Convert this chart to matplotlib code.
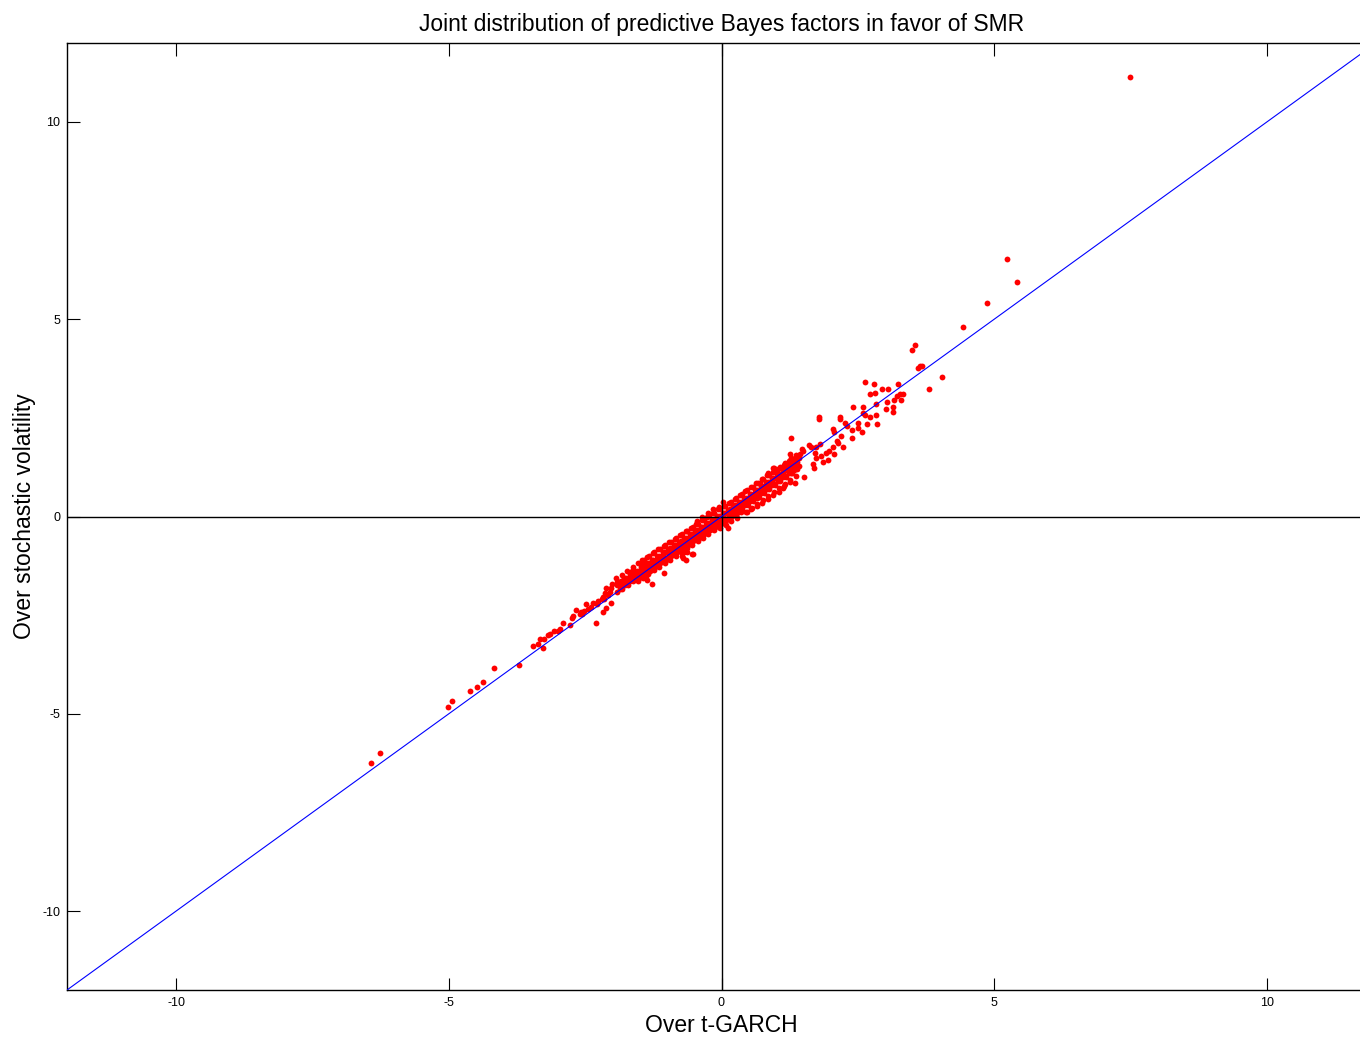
import matplotlib
matplotlib.use('Agg')
import matplotlib.pyplot as plt

plt.rcParams.update({
    "font.family": ["Liberation Sans", "DejaVu Sans"],
    "axes.unicode_minus": False,
})

# central dense band
core_x = [
    -1.93, -1.88, -1.91, -1.87, -1.92, -1.83, -1.78, -1.81, -1.77, -1.82,
    -1.73, -1.68, -1.71, -1.67, -1.72, -1.63, -1.58, -1.61, -1.57, -1.62,
    -1.53, -1.48, -1.51, -1.47, -1.52, -1.43, -1.38, -1.41, -1.37, -1.42,
    -1.33, -1.28, -1.31, -1.27, -1.32, -1.23, -1.18, -1.21, -1.17, -1.22,
    -1.13, -1.08, -1.11, -1.07, -1.12, -1.03, -0.98, -1.01, -0.97, -1.02,
    -0.93, -0.88, -0.91, -0.87, -0.92, -0.83, -0.78, -0.81, -0.77, -0.82,
    -0.73, -0.68, -0.71, -0.67, -0.72, -0.63, -0.58, -0.61, -0.57, -0.62,
    -0.53, -0.48, -0.51, -0.47, -0.52, -0.43, -0.38, -0.41, -0.37, -0.42,
    -0.33, -0.28, -0.31, -0.27, -0.32, -0.23, -0.18, -0.21, -0.17, -0.22,
    -0.13, -0.08, -0.11, -0.07, -0.12, -0.03, 0.02, -0.01, 0.03, -0.02,
    0.07, 0.12, 0.09, 0.13, 0.08, 0.17, 0.22, 0.19, 0.23, 0.18,
    0.27, 0.32, 0.29, 0.33, 0.28, 0.37, 0.42, 0.39, 0.43, 0.38,
    0.47, 0.52, 0.49, 0.53, 0.48, 0.57, 0.62, 0.59, 0.63, 0.58,
    0.67, 0.72, 0.69, 0.73, 0.68, 0.77, 0.82, 0.79, 0.83, 0.78,
    0.87, 0.92, 0.89, 0.93, 0.88, 0.97, 1.02, 0.99, 1.03, 0.98,
    1.07, 1.12, 1.09, 1.13, 1.08, 1.17, 1.22, 1.19, 1.23, 1.18,
    1.27, 1.32, 1.29, 1.33, 1.28, 1.37, 1.42, 1.39, 1.43, 1.38,
]
core_y = [
    -1.56, -1.65, -1.74, -1.83, -1.92, -1.47, -1.56, -1.65, -1.74, -1.83,
    -1.37, -1.46, -1.55, -1.64, -1.73, -1.28, -1.37, -1.46, -1.55, -1.64,
    -1.19, -1.28, -1.37, -1.46, -1.55, -1.10, -1.19, -1.28, -1.37, -1.46,
    -1.01, -1.10, -1.19, -1.28, -1.37, -0.91, -1.00, -1.09, -1.18, -1.27,
    -0.82, -0.91, -1.00, -1.09, -1.18, -0.73, -0.82, -0.91, -1.00, -1.09,
    -0.64, -0.73, -0.82, -0.91, -1.00, -0.55, -0.64, -0.73, -0.82, -0.91,
    -0.45, -0.54, -0.63, -0.72, -0.81, -0.36, -0.45, -0.54, -0.63, -0.72,
    -0.27, -0.36, -0.45, -0.54, -0.63, -0.18, -0.27, -0.36, -0.45, -0.54,
    -0.09, -0.18, -0.27, -0.36, -0.45, 0.01, -0.08, -0.17, -0.26, -0.35,
    0.10, 0.01, -0.08, -0.17, -0.26, 0.19, 0.10, 0.01, -0.08, -0.17,
    0.26, 0.17, 0.08, -0.01, -0.10, 0.36, 0.27, 0.18, 0.09, 0.00,
    0.46, 0.37, 0.28, 0.19, 0.10, 0.56, 0.47, 0.38, 0.29, 0.20,
    0.66, 0.57, 0.48, 0.39, 0.30, 0.76, 0.67, 0.58, 0.49, 0.40,
    0.86, 0.77, 0.68, 0.59, 0.50, 0.96, 0.87, 0.78, 0.69, 0.60,
    1.06, 0.97, 0.88, 0.79, 0.70, 1.16, 1.07, 0.98, 0.89, 0.80,
    1.26, 1.17, 1.08, 0.99, 0.90, 1.36, 1.27, 1.18, 1.09, 1.00,
    1.46, 1.37, 1.28, 1.19, 1.10, 1.56, 1.47, 1.38, 1.29, 1.20,
]

fill_x = [
    -1.85, -1.85, -1.75, -1.75, -1.65, -1.65, -1.55, -1.55, -1.45, -1.45,
    -1.35, -1.35, -1.25, -1.25, -1.15, -1.15, -1.05, -1.05, -0.95, -0.95,
    -0.85, -0.85, -0.75, -0.75, -0.65, -0.65, -0.55, -0.55, -0.45, -0.45,
    -0.35, -0.35, -0.25, -0.25, -0.15, -0.15, -0.05, -0.05, 0.05, 0.05,
    0.15, 0.15, 0.25, 0.25, 0.35, 0.35, 0.45, 0.45, 0.55, 0.55,
    0.65, 0.65, 0.75, 0.75, 0.85, 0.85, 0.95, 0.95, 1.05, 1.05,
    1.15, 1.15, 1.25, 1.25, 1.35, 1.35,
]
fill_y = [
    -1.64, -1.76, -1.55, -1.67, -1.46, -1.58, -1.37, -1.49, -1.27, -1.39,
    -1.18, -1.30, -1.09, -1.21, -1.00, -1.12, -0.91, -1.03, -0.81, -0.93,
    -0.72, -0.84, -0.63, -0.75, -0.54, -0.66, -0.45, -0.57, -0.35, -0.47,
    -0.26, -0.38, -0.17, -0.29, -0.08, -0.20, 0.01, -0.11, 0.08, -0.04,
    0.18, 0.06, 0.28, 0.16, 0.38, 0.26, 0.48, 0.36, 0.58, 0.46,
    0.68, 0.56, 0.78, 0.66, 0.88, 0.76, 0.98, 0.86, 1.08, 0.96,
    1.18, 1.06, 1.28, 1.16, 1.38, 1.26,
]

# outer edges of the band
edge_x = [
    -1.46, -1.36, -1.26, -1.16, -1.06, -0.96, -0.86, -0.76, -0.66, -0.56,
    -0.46, -0.36, -0.26, -0.16, -0.06, 0.04, 0.14, 0.24, 0.34, 0.44,
    0.54, 0.64, 0.74, 0.84, 0.94, 1.04, 1.14, 1.24, 1.34, 1.44,
    -1.54, -1.44, -1.34, -1.24, -1.14, -1.04, -0.94, -0.84, -0.74, -0.64,
    -0.54, -0.44, -0.34, -0.24, -0.14, -0.04, 0.06, 0.16, 0.26, 0.36,
    0.46, 0.56, 0.66, 0.76, 0.86, 0.96, 1.06, 1.16, 1.26, 1.36,
]
edge_y = [
    -1.11, -1.02, -0.93, -0.83, -0.74, -0.65, -0.56, -0.47, -0.37, -0.28,
    -0.19, -0.10, -0.01, 0.09, 0.18, 0.27, 0.34, 0.44, 0.54, 0.64,
    0.74, 0.84, 0.94, 1.04, 1.14, 1.20, 1.30, 1.40, 1.48, 1.58,
    -1.64, -1.55, -1.46, -1.36, -1.27, -1.18, -1.09, -1.00, -0.90, -0.81,
    -0.72, -0.63, -0.54, -0.44, -0.35, -0.26, -0.19, -0.09, 0.01, 0.11,
    0.12, 0.22, 0.32, 0.42, 0.52, 0.62, 0.72, 0.82, 0.92, 1.02,
]

# scattered points around the centre of the band
mid_x = [-0.45, -0.35, -0.25, -0.15, -0.05, 0.02, -0.02, 0.08, 0.18, 0.28,
         0.12, 0.45, 0.55, 0.65, 0.75, 0.85, 0.95, 1.05, 1.15, 1.25,
         -1.65, -1.45, -1.06, -1.38, -1.36, -1.28, -0.72, -0.66, -0.55, -0.64,
         -0.68, -0.70, -0.53, 0.97, 0.85, 0.70, 0.66]
mid_y = [-0.12, 0.00, 0.08, 0.18, 0.25, 0.38, -0.30, -0.22, -0.12, -0.03,
         -0.28, 0.12, 0.18, 0.26, 0.34, 0.45, 0.55, 0.62, 0.78, 0.88,
         -1.37, -1.16, -1.42, -1.52, -1.60, -1.72, -1.01, -1.09, -0.94, -0.91,
         -0.91, -1.04, -0.96, 1.24, 1.09, 0.84, 0.48]

# upper tail
up_x = [1.28, 1.60, 1.65, 1.74, 1.80, 1.25, 1.28, 0.94, 1.83, 1.91,
        1.98, 2.04, 2.11, 2.07, 1.96, 1.87, 1.74, 1.67, 1.71, 1.52,
        1.30, 1.34, 1.12, 1.47, 1.50, 1.69, 1.78, 1.78, 2.17,
        2.64, 2.79, 2.72, 2.81, 2.94, 3.06, 3.23, 3.28, 3.32, 3.21,
        3.17, 3.03, 3.30, 3.14, 3.01, 3.14, 2.84, 2.42, 2.59, 2.59,
        2.64, 2.72, 2.84, 2.86, 2.66, 2.51, 2.50, 2.57, 2.18, 2.26,
        2.31, 2.39, 2.40, 2.04, 2.07, 2.20, 2.13, 2.22,
        3.54, 3.50, 3.67, 3.61, 3.64, 4.04, 3.80, 4.42, 4.86, 5.23,
        5.41, 7.49]
up_y = [2.00, 1.82, 1.77, 1.75, 1.85, 1.59, 1.49, 1.24, 1.54, 1.62,
        1.67, 1.75, 1.92, 1.59, 1.44, 1.37, 1.49, 1.34, 1.62, 0.99,
        1.09, 0.86, 0.73, 1.70, 1.65, 1.24, 2.51, 2.46, 2.48,
        3.42, 3.37, 3.11, 3.14, 3.22, 3.22, 3.37, 3.11, 3.11, 3.06,
        2.94, 2.89, 2.96, 2.78, 2.73, 2.66, 2.86, 2.78, 2.78, 2.63,
        2.56, 2.51, 2.56, 2.35, 2.35, 2.38, 2.25, 2.13, 2.51, 2.38,
        2.30, 2.18, 2.00, 2.23, 2.13, 2.03, 1.87, 1.77,
        4.35, 4.23, 3.82, 3.77, 3.82, 3.54, 3.22, 4.81, 5.42, 6.53,
        5.95, 11.14]

# lower tail
low_x = [-6.42, -6.27, -5.01, -4.95, -4.62, -4.48, -4.37, -4.17, -3.71, -3.45,
         -3.36, -3.28, -3.32, -3.25, -3.19, -3.14, -3.08, -2.99, -2.90, -2.77,
         -2.75, -2.73, -2.66, -2.97, -2.31, -2.60, -2.55, -2.57, -2.53, -2.48,
         -2.18, -2.11, -2.02, -2.35, -2.29, -2.28, -2.26, -2.20, -2.18, -2.09,
         -2.13, -2.11, -2.02, -2.00, -1.91, -2.05, -2.15, -2.40, -2.44]
low_y = [-6.25, -6.00, -4.84, -4.68, -4.43, -4.33, -4.20, -3.85, -3.77, -3.29,
         -3.24, -3.34, -3.11, -3.11, -3.01, -2.99, -2.91, -2.89, -2.71, -2.76,
         -2.56, -2.53, -2.38, -2.84, -2.71, -2.46, -2.48, -2.43, -2.40, -2.23,
         -2.43, -2.33, -2.18, -2.18, -2.18, -2.23, -2.13, -2.10, -2.03, -2.00,
         -1.95, -1.82, -1.80, -1.70, -1.67, -1.92, -2.08, -2.30, -2.35]

diag = [-12, 12]

fig = plt.figure(figsize=(13.6, 10.39), dpi=100)
ax = fig.add_axes([67 / 1360, 49 / 1039, 1309 / 1360, 947 / 1039])

for xs, ys in [(core_x, core_y), (fill_x, fill_y), (edge_x, edge_y),
               (mid_x, mid_y), (up_x, up_y), (low_x, low_y)]:
    ax.plot(xs, ys, linestyle='none', marker='o', markersize=4.2,
            markeredgewidth=0, color='red', zorder=2)

ax.axhline(0, color='black', linewidth=1, zorder=3)
ax.axvline(0, color='black', linewidth=1, zorder=3)
ax.plot(diag, diag, color='blue', linewidth=0.8, zorder=4)

ax.set_xlim(-12, 12)
ax.set_ylim(-12, 12)
ax.set_xticks([-10, -5, 0, 5, 10])
ax.set_yticks([-10, -5, 0, 5, 10])
ax.tick_params(direction='in', length=9, width=0.8, top=True, right=True,
               labelsize=9, pad=5)
for s in ax.spines.values():
    s.set_linewidth(1)

ax.set_title('Joint distribution of predictive Bayes factors in favor of SMR',
             fontsize=16.5, pad=9)
ax.set_xlabel('Over t-GARCH', fontsize=16.5, labelpad=4)
ax.set_ylabel('Over stochastic volatility', fontsize=16.5, labelpad=4)

fig.savefig('out.png', dpi=100)
